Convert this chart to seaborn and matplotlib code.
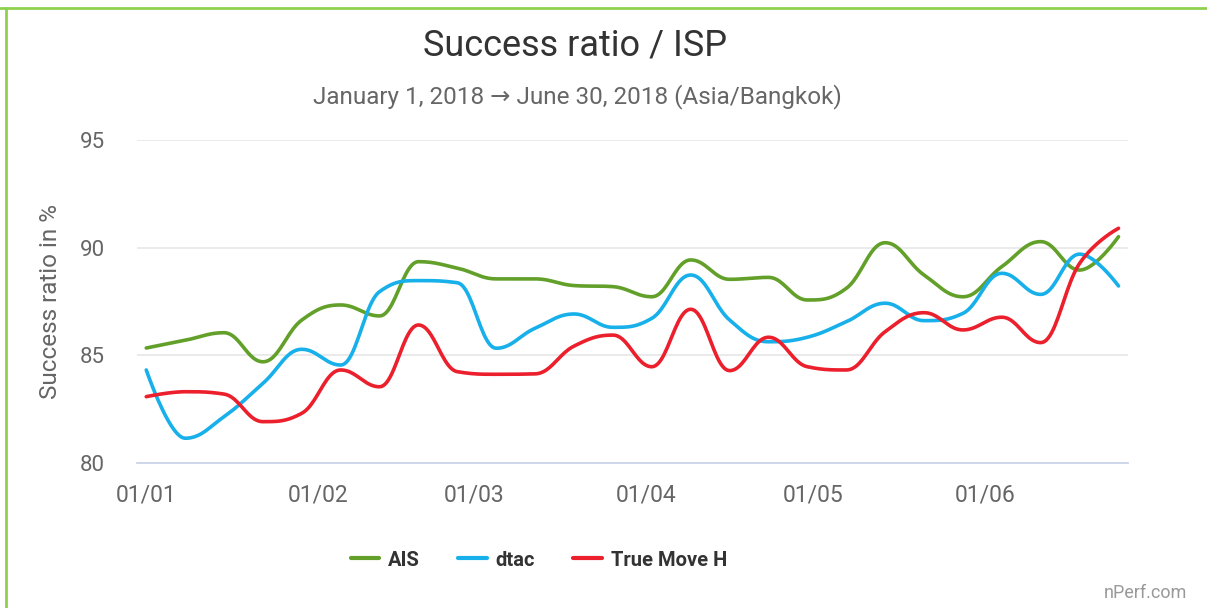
import numpy as np
import pandas as pd
import matplotlib
matplotlib.use('Agg')
import matplotlib.pyplot as plt
import matplotlib.dates as mdates
from matplotlib.lines import Line2D
import seaborn as sns

# weekly samples, Jan 1 2018 -> Jun 25 2018
weeks = pd.date_range('2018-01-01', periods=26, freq='7D')

ais = [85.34, 85.7, 86.05, 84.7, 86.64, 87.34, 86.83, 89.35, 89.05, 88.55,
       88.55, 88.24, 88.19, 87.72, 89.43, 88.53, 88.62, 87.57, 88.11, 90.23,
       88.73, 87.72, 89.12, 90.28, 88.96, 90.51]
dtac = [84.32, 81.15, 82.15, 83.7, 85.28, 84.55, 87.96, 88.47, 88.37, 85.33,
        86.26, 86.92, 86.3, 86.72, 88.73, 86.64, 85.63, 85.84, 86.56, 87.42,
        86.61, 86.95, 88.81, 87.83, 89.7, 88.22]
truemove = [83.08, 83.31, 83.2, 81.92, 82.31, 84.32, 83.54, 86.41, 84.24, 84.12,
            84.14, 85.43, 85.94, 84.47, 87.14, 84.29, 85.84, 84.47, 84.32, 86.1,
            86.98, 86.18, 86.77, 85.59, 89.27, 90.9]

series = {'AIS': ais, 'dtac': dtac, 'True Move H': truemove}
colors = {'AIS': '#62a02a', 'dtac': '#17b0ea', 'True Move H': '#ec1f2c'}


def spline(x, y, smoothing=1.5, steps=24):
    # highcharts-style bezier spline, only used to draw the curve
    x = np.asarray(x, float)
    y = np.asarray(y, float)
    n = len(x)
    lc = [(x[0], y[0])] * n
    rc = [(x[0], y[0])] * n
    d = smoothing + 1
    for i in range(n):
        if i == 0 or i == n - 1:
            lc[i] = rc[i] = (x[i], y[i])
            continue
        lx = (smoothing * x[i] + x[i - 1]) / d
        ly = (smoothing * y[i] + y[i - 1]) / d
        rx = (smoothing * x[i] + x[i + 1]) / d
        ry = (smoothing * y[i] + y[i + 1]) / d
        if rx != lx:
            corr = (ry - ly) * (rx - x[i]) / (rx - lx) + y[i] - ry
            ly += corr
            ry += corr
        if ly > y[i - 1] and ly > y[i]:
            ly = max(y[i - 1], y[i]); ry = 2 * y[i] - ly
        elif ly < y[i - 1] and ly < y[i]:
            ly = min(y[i - 1], y[i]); ry = 2 * y[i] - ly
        if ry > y[i + 1] and ry > y[i]:
            ry = max(y[i + 1], y[i]); ly = 2 * y[i] - ry
        elif ry < y[i + 1] and ry < y[i]:
            ry = min(y[i + 1], y[i]); ly = 2 * y[i] - ry
        lc[i] = (lx, ly)
        rc[i] = (rx, ry)
    xs, ys = [x[0]], [y[0]]
    t = np.linspace(0, 1, steps)[1:]
    for i in range(1, n):
        p0 = np.array([x[i - 1], y[i - 1]])
        p1 = np.array(rc[i - 1])
        p2 = np.array(lc[i])
        p3 = np.array([x[i], y[i]])
        pts = ((1 - t) ** 3)[:, None] * p0 + (3 * (1 - t) ** 2 * t)[:, None] * p1 \
            + (3 * (1 - t) * t ** 2)[:, None] * p2 + (t ** 3)[:, None] * p3
        xs.extend(pts[:, 0])
        ys.extend(pts[:, 1])
    return np.array(xs), np.array(ys)


xnum = mdates.date2num(weeks)
frames = []
for name, vals in series.items():
    sx, sy = spline(xnum, vals)
    frames.append(pd.DataFrame({'date': sx, 'ratio': sy, 'isp': name}))
df = pd.concat(frames, ignore_index=True)

sns.set_style('white')
plt.rcParams['font.family'] = ['Roboto', 'DejaVu Sans']

W, H = 1207, 608
fig = plt.figure(figsize=(W / 100, H / 100), dpi=100)
ax = fig.add_axes([137 / W, 1 - 463 / H, (1128 - 137) / W, (463 - 140) / H])

sns.lineplot(data=df, x='date', y='ratio', hue='isp', palette=colors, sort=False,
             estimator=None, units='isp', linewidth=2.6, ax=ax, legend=False)

ax.set_ylim(80, 95)
ax.set_yticks([80, 85, 90, 95])
ax.set_xlim(mdates.date2num(pd.Timestamp('2017-12-30 08:00')),
            mdates.date2num(pd.Timestamp('2018-06-26 17:00')))
ax.xaxis.set_major_locator(mdates.MonthLocator())
ax.xaxis.set_major_formatter(mdates.DateFormatter('%d/%m'))

ax.grid(axis='y', color='#e6e6e6', linewidth=1.2)
ax.grid(axis='x', visible=False)
for s in ['top', 'right', 'left']:
    ax.spines[s].set_visible(False)
ax.spines['bottom'].set_color('#ccd6eb')
ax.spines['bottom'].set_linewidth(1.3)
ax.tick_params(axis='x', colors='#666666', labelsize=16.5, length=10, width=1.3,
               direction='out', pad=5)
ax.tick_params(axis='x', color='#ccd6eb')
ax.tick_params(axis='y', colors='#666666', labelsize=16, length=0, pad=23)
ax.set_xlabel('')
ax.set_ylabel('Success ratio in %', fontsize=17.5, color='#666666')
ax.yaxis.set_label_coords(-75 / (1128 - 137), 0.5)

fig.text(575 / W, 1 - 45 / H, 'Success ratio / ISP', ha='center', va='center',
         fontsize=26, color='#333333')
fig.text(577 / W, 1 - 97 / H, 'January 1, 2018 \u2192 June 30, 2018 (Asia/Bangkok)',
         ha='center', va='center', fontsize=17.5, color='#666666')
fig.text(1187 / W, 1 - 593 / H, 'nPerf.com', ha='right', va='center',
         fontsize=13, color='#999999')

handles = [Line2D([], [], color=colors[k], linewidth=3) for k in series]
fig.legend(handles, list(series), loc='center', bbox_to_anchor=(539 / W, 1 - 560 / H),
           ncol=3, frameon=False, handlelength=1.4, handletextpad=0.45,
           columnspacing=1.9, prop={'weight': 'bold', 'size': 14.5},
           labelcolor='#333333')

# green frame on top and left
fig.add_artist(Line2D([0, 1], [1 - 8 / H, 1 - 8 / H], transform=fig.transFigure,
                      color='#8fd14f', linewidth=2))
fig.add_artist(Line2D([6 / W, 6 / W], [0, 1 - 8 / H], transform=fig.transFigure,
                      color='#8fd14f', linewidth=2))

fig.savefig('out.png', dpi=100)
